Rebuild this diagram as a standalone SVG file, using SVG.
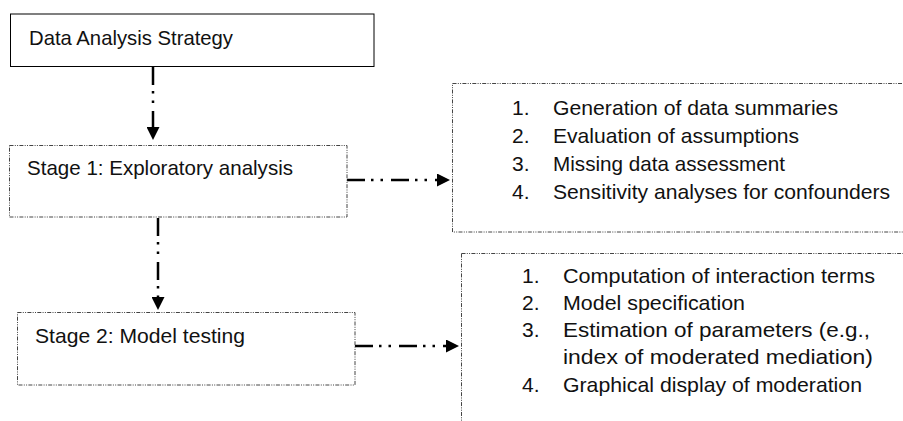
<svg xmlns="http://www.w3.org/2000/svg" width="903" height="421" viewBox="0 0 903 421">
  <style>
    .txt { font-family: "Liberation Sans", Arial, sans-serif; font-size: 21px; fill: #111; }
    .solid { fill: #fff; stroke: #000; stroke-width: 1; }
    .dotbox { fill: #fff; stroke: #444; stroke-width: 1; stroke-dasharray: 4 1.3 1 1.3 1 1.3; }
    .conn { fill: none; stroke: #000; stroke-width: 2.5; stroke-dasharray: 18 6 2.5 7 2.5 8; }
  </style>
  <defs>
    <marker id="head" viewBox="0 0 14 14" refX="0" refY="7" markerWidth="14" markerHeight="13" markerUnits="userSpaceOnUse" orient="auto">
      <path d="M0,0 L14,7 L0,14 z" fill="#000"/>
    </marker>
  </defs>

  <rect width="903" height="421" fill="#fff"/>

  <!-- connectors -->
  <g id="connectors">
    <line class="conn" x1="153" y1="67" x2="153" y2="127" marker-end="url(#head)"/>
    <line class="conn" x1="158" y1="218" x2="158" y2="297" marker-end="url(#head)"/>
    <line class="conn" x1="347" y1="180" x2="437" y2="180" marker-end="url(#head)"/>
    <line class="conn" x1="355" y1="346" x2="446" y2="346" marker-end="url(#head)"/>
  </g>

  <g id="strategy">
    <rect class="solid" x="10.5" y="14" width="363.5" height="52.5"/>
    <text class="txt" x="29" y="45" textLength="204" lengthAdjust="spacingAndGlyphs">Data Analysis Strategy</text>
  </g>

  <g id="stage1">
    <rect class="dotbox" x="9.5" y="145.5" width="337.5" height="71.5"/>
    <text class="txt" x="27" y="175" textLength="266" lengthAdjust="spacingAndGlyphs">Stage 1: Exploratory analysis</text>
  </g>

  <g id="stage2">
    <rect class="dotbox" x="17.5" y="312.5" width="337.5" height="72.5"/>
    <text class="txt" x="35" y="343" textLength="210" lengthAdjust="spacingAndGlyphs">Stage 2: Model testing</text>
  </g>

  <g id="stage1-tasks">
    <rect class="dotbox" x="452.5" y="83.5" width="500" height="148.5"/>
    <text class="txt" x="512" y="115">1.</text>
    <text class="txt" x="553" y="115" textLength="285" lengthAdjust="spacingAndGlyphs">Generation of data summaries</text>
    <text class="txt" x="512" y="143">2.</text>
    <text class="txt" x="553" y="143" textLength="246" lengthAdjust="spacingAndGlyphs">Evaluation of assumptions</text>
    <text class="txt" x="512" y="171">3.</text>
    <text class="txt" x="553" y="171" textLength="232" lengthAdjust="spacingAndGlyphs">Missing data assessment</text>
    <text class="txt" x="512" y="199">4.</text>
    <text class="txt" x="553" y="199" textLength="337" lengthAdjust="spacingAndGlyphs">Sensitivity analyses for confounders</text>
  </g>

  <g id="stage2-tasks">
    <rect class="dotbox" x="461.5" y="253.5" width="500" height="200"/>
    <text class="txt" x="522" y="283">1.</text>
    <text class="txt" x="563" y="283" textLength="312" lengthAdjust="spacingAndGlyphs">Computation of interaction terms</text>
    <text class="txt" x="522" y="310">2.</text>
    <text class="txt" x="563" y="310" textLength="182" lengthAdjust="spacingAndGlyphs">Model specification</text>
    <text class="txt" x="522" y="337">3.</text>
    <text class="txt" x="563" y="337" textLength="307" lengthAdjust="spacingAndGlyphs">Estimation of parameters (e.g.,</text>
    <text class="txt" x="563" y="364" textLength="310" lengthAdjust="spacingAndGlyphs">index of moderated mediation)</text>
    <text class="txt" x="522" y="392">4.</text>
    <text class="txt" x="563" y="392" textLength="299" lengthAdjust="spacingAndGlyphs">Graphical display of moderation</text>
  </g>
</svg>
